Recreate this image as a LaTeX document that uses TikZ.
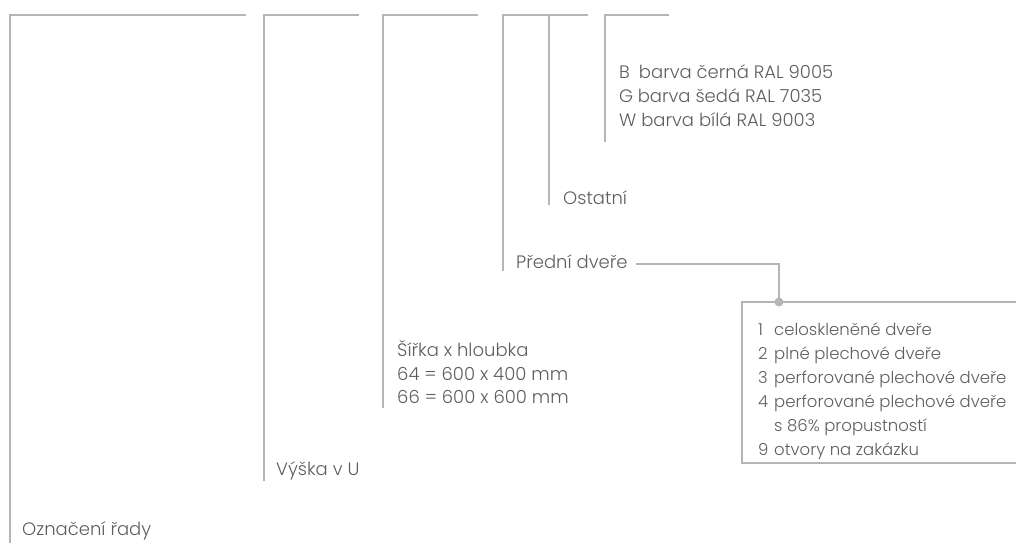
\documentclass[tikz,border=0pt]{standalone}
\usepackage{fontspec}
\setmainfont{Poppins}[UprightFont=* Light]
\definecolor{linegray}{HTML}{B5B5B5}
\definecolor{textgray}{HTML}{5E5E5E}
\begin{document}
\begin{tikzpicture}[x=1pt,y=-1pt,
  bar/.style={draw=linegray,line width=2.6pt},
  thin/.style={draw=linegray,line width=1.6pt},
  lbl/.style={anchor=base west,inner sep=0pt,text=textgray,font=\fontsize{18}{24}\selectfont},
  boxlbl/.style={lbl,font=\fontsize{16.5}{24}\selectfont}]
\useasboundingbox (0,0) rectangle (1016,543);
% corners of brackets
\coordinate (t1) at (10,15);  \coordinate (e1) at (246,15); \coordinate (b1) at (10,543);
\coordinate (t2) at (264,15); \coordinate (e2) at (359,15); \coordinate (b2) at (264,481);
\coordinate (t3) at (383,15); \coordinate (e3) at (478,15); \coordinate (b3) at (383,408);
\coordinate (t4) at (503,15); \coordinate (e4) at (588,15); \coordinate (b4) at (503,271);
\coordinate (t4b) at (549,15); \coordinate (b4b) at (549,205);
\coordinate (t5) at (605,15); \coordinate (e5) at (669,15); \coordinate (b5) at (605,142);
\draw[bar] (b1) -- (t1) -- (e1);
\draw[bar] (b2) -- (t2) -- (e2);
\draw[bar] (b3) -- (t3) -- (e3);
\draw[bar] (b4) -- (t4) -- (e4);
\draw[bar] (t4b) -- (b4b);
\draw[bar] (b5) -- (t5) -- (e5);
% labels
\node[lbl] (ozn) at (22,535) {Označení řady};
\node[lbl] (vys) at (276,475) {Výška v U};
\node[lbl] (sir) at (397,356) {Šířka x hloubka};
\node[lbl] (s64) at (397,380) {64 = 600 x 400 mm};
\node[lbl] (s66) at (397,403) {66 = 600 x 600 mm};
\node[lbl] (pre) at (516,268) {Přední dveře};
\node[lbl] (ost) at (563,204) {Ostatní};
\node[lbl] (cB) at (619,78) {B\hspace{0.5em}barva černá RAL 9005};
\node[lbl] (cG) at (619,102) {G\hspace{0.25em}barva šedá RAL 7035};
\node[lbl] (cW) at (619,126) {W barva bílá RAL 9003};
% box
\coordinate (dot) at (779,302);
\draw[thin] (1017,302) -- (742,302) -- (742,463) -- (1017,463);
\draw[thin] ([xshift=8pt]pre.base east) ++(0,-4) coordinate (ls) -- (ls -| dot) -- (dot);
\fill[linegray] (dot) circle (4.5pt);
\node[boxlbl] (d1) at (758,335) {\makebox[16pt][l]{1}celoskleněné dveře};
\node[boxlbl] (d2) at (758,359) {\makebox[16pt][l]{2}plné plechové dveře};
\node[boxlbl] (d3) at (758,383) {\makebox[16pt][l]{3}perforované plechové dveře};
\node[boxlbl] (d4) at (758,407) {\makebox[16pt][l]{4}perforované plechové dveře};
\node[boxlbl] (d4b) at (758,431) {\makebox[16pt][l]{}s 86\% propustností};
\node[boxlbl] (d9) at (758,455) {\makebox[16pt][l]{9}otvory na zakázku};
\end{tikzpicture}
\end{document}
